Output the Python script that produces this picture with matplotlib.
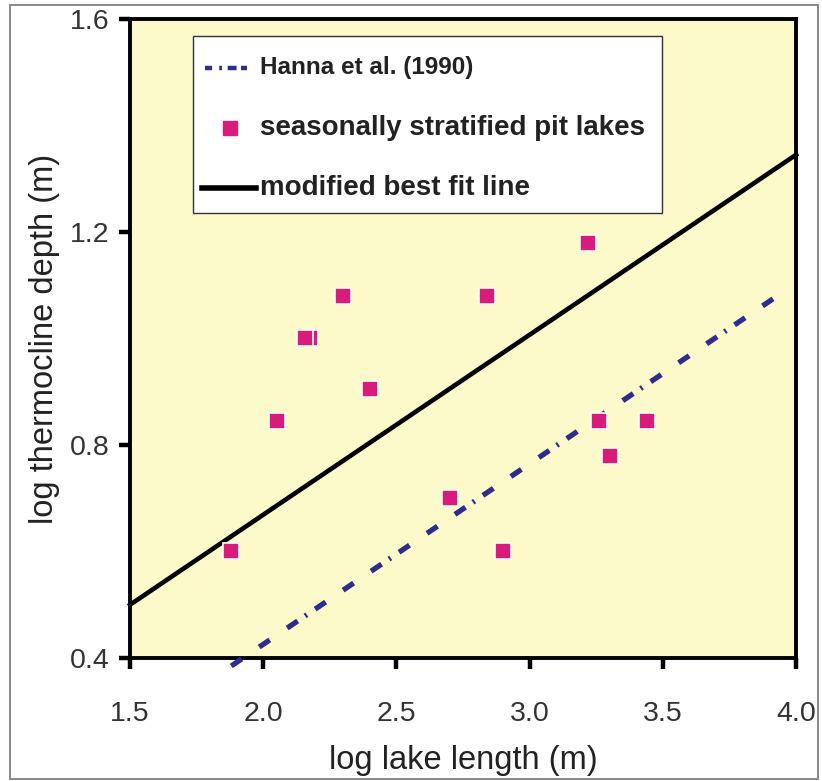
import matplotlib.pyplot as plt
from matplotlib.patches import Rectangle
from matplotlib.lines import Line2D

plt.rcParams['font.family'] = ['Liberation Sans', 'DejaVu Sans']

# pit lakes: log lake length vs log thermocline depth
lake_len = [1.88, 2.05, 2.175, 2.155, 2.30, 2.40, 2.70, 2.84, 2.90, 3.22, 3.26, 3.30, 3.44]
thermo_depth = [0.60, 0.845, 1.00, 1.00, 1.08, 0.905, 0.70, 1.08, 0.60, 1.18, 0.845, 0.78, 0.845]

# Hanna et al. (1990) relation and the modified fit
hanna_x = [1.88, 3.93]
hanna_y = [0.385, 1.08]
fit_x = [1.5, 4.0]
fit_y = [0.50, 1.345]

xticks = [1.5, 2.0, 2.5, 3.0, 3.5, 4.0]
yticks = [0.4, 0.8, 1.2, 1.6]

pink = '#D81C7B'
navy = '#2E2C8E'
yellow = '#FCF9CA'
# mostly dashes, with a dot slipped in every third gap
hanna_dash = (0, (2.4, 4.0, 2.4, 4.0, 2.4, 1.7, 0.4, 1.9))

fig = plt.figure(figsize=(8.22, 7.81), dpi=100)
ax = fig.add_axes([0.1582, 0.1575, 0.8102, 0.8182])
ax.set_facecolor(yellow)

ax.plot(fit_x, fit_y, color='black', lw=3.3, clip_on=False, zorder=3)
ax.plot(hanna_x, hanna_y, color=navy, lw=3.8, linestyle=hanna_dash, dash_capstyle='butt',
        clip_on=False, zorder=3)
ax.plot(lake_len, thermo_depth, linestyle='none', marker='s', ms=11.8, mfc=pink,
        mec='#FFFDF0', mew=1.2, zorder=4)

ax.set_xlim(1.5, 4.0)
ax.set_ylim(0.4, 1.6)
ax.set_xticks(xticks)
ax.set_yticks(yticks)
ax.set_xticklabels(['%.1f' % t for t in xticks])
ax.set_yticklabels(['%.1f' % t for t in yticks])
ax.tick_params(axis='both', direction='out', length=8, width=3.2, labelsize=20.5, colors='black')
ax.tick_params(axis='x', pad=23)
ax.tick_params(axis='y', pad=7)
for lbl in ax.get_xticklabels() + ax.get_yticklabels():
    lbl.set_color('#333333')
for sp in ax.spines.values():
    sp.set_linewidth(2.8)

ax.set_xlabel('log lake length (m)', fontsize=23.5, color='#222222', labelpad=13)
ax.set_ylabel('log thermocline depth (m)', fontsize=23.5, color='#222222', labelpad=7)

# legend box drawn by hand
ax.add_patch(Rectangle((0.0946, 0.6964), 0.7042, 0.277, transform=ax.transAxes,
                       fc='white', ec='#333333', lw=1, zorder=5))
rows = [0.9233, 0.8294, 0.7355]
ax.add_line(Line2D([0.1126, 0.1757], [rows[0], rows[0]], transform=ax.transAxes,
                   color=navy, lw=3.2, linestyle=(0, (1.6, 1.6, 0.6, 1.3, 2.0, 1)), zorder=6))
ax.add_line(Line2D([0.1502], [rows[1]], transform=ax.transAxes, marker='s', ms=10,
                   mfc=pink, mec=pink, zorder=6))
ax.add_line(Line2D([0.1081, 0.1892], [rows[2], rows[2]], transform=ax.transAxes,
                   color='black', lw=4, zorder=6))
ax.text(0.1952, rows[0], 'Hanna et al. (1990)', transform=ax.transAxes, fontsize=17.5,
        fontweight='bold', color='#222222', va='center', zorder=6)
ax.text(0.1952, rows[1], 'seasonally stratified pit lakes', transform=ax.transAxes,
        fontsize=20, fontweight='bold', color='#222222', va='center', zorder=6)
ax.text(0.1952, rows[2], 'modified best fit line', transform=ax.transAxes, fontsize=20,
        fontweight='bold', color='#222222', va='center', zorder=6)

fig.patches.append(Rectangle((0.0122, 0.0026), 0.983, 0.991, transform=fig.transFigure,
                             fill=False, ec='#808080', lw=1.3))

fig.savefig('out.png', dpi=100)
